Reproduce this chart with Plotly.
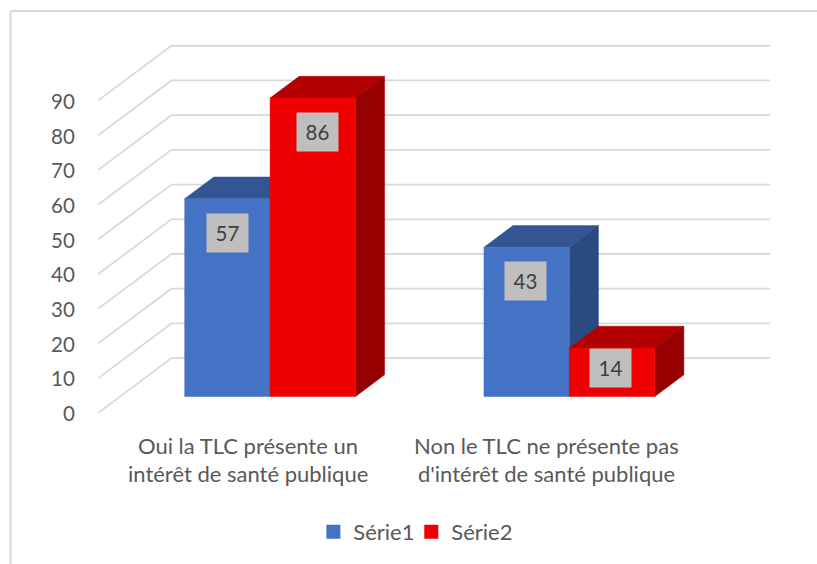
import plotly.graph_objects as go

# Data
category_lines = [["Oui la TLC présente un", "intérêt de santé publique"],
                  ["Non le TLC ne présente pas", "d'intérêt de santé publique"]]
series_names = ["Série1", "Série2"]
serie1 = [57, 43]
serie2 = [86, 14]
y_ticks = [0, 10, 20, 30, 40, 50, 60, 70, 80, 90]

# Style
FONT = "Lato"
TXT = "#595959"
GRID = "#D9D9D9"
FACE = [("#4472C4", "#335593", "#2B4A80"), ("#EE0000", "#B30000", "#960000")]
FS_CAT = 22
FS_NUM = 20.5
FS_LEG = 22
LABEL_XSHIFT = [[0.5, -1], [4.5, -1.5]]
LEGEND_LEFT = [313, 411]

# Oblique projection of the 3D box onto the x / value axes
W, H = 817, 564
L, R, T, B = 97.5, 790, 26, 414
PX_CAT = 299.5
PX_VAL = 3.48
DX = 73.5 / PX_CAT
DY = 55 / PX_VAL
D0, D1 = 0.30, 0.695
BAR_W = 0.2855
BAR_OFF = 0.216
X_MAX = (R - L) / PX_CAT
Y_MAX = (B - T) / PX_VAL


def proj(x, v, t):
    return x + t * DX, v + t * DY


def poly(pts):
    xs, ys = [], []
    for p in pts + [pts[0]]:
        xs.append(p[0])
        ys.append(p[1])
    return xs, ys


def join(polys):
    xs, ys = [], []
    for a, b in polys:
        xs += a + [None]
        ys += b + [None]
    return xs, ys


fig = go.Figure()

# Walls' gridlines
gx, gy = [], []
for v in y_ticks:
    a = proj(0, v, 0)
    b = proj(0, v, 1)
    c = proj(2, v, 1)
    gx += [a[0], b[0], c[0], None]
    gy += [a[1], b[1], c[1], None]
fig.add_trace(go.Scatter(x=gx, y=gy, mode="lines", line=dict(color=GRID, width=1.8),
                         showlegend=False, hoverinfo="skip", cliponaxis=False))

annots = []
for s, values in enumerate([serie1, serie2]):
    front, top, side = [], [], []
    for c, v in enumerate(values):
        x0 = c + BAR_OFF + s * BAR_W
        x1 = x0 + BAR_W
        front.append(poly([proj(x0, 0, D0), proj(x1, 0, D0), proj(x1, v, D0), proj(x0, v, D0)]))
        top.append(poly([proj(x0, v, D0), proj(x1, v, D0), proj(x1, v, D1), proj(x0, v, D1)]))
        side.append(poly([proj(x1, 0, D0), proj(x1, 0, D1), proj(x1, v, D1), proj(x1, v, D0)]))
        lx, ly = proj((x0 + x1) / 2, max(v - 9.8, v * 0.58), D0)
        annots.append(dict(x=lx, y=ly, xref="x", yref="y", text=str(v), showarrow=False,
                           xshift=LABEL_XSHIFT[s][c],
                           width=41, height=38, bgcolor="#BFBFBF", borderpad=0, valign="middle",
                           font=dict(family=FONT, size=FS_NUM, color="#404040")))
    for faces, col in ((top, FACE[s][1]), (side, FACE[s][2]), (front, FACE[s][0])):
        xs, ys = join(faces)
        fig.add_trace(go.Scatter(x=xs, y=ys, mode="lines", fill="toself", fillcolor=col,
                                 line=dict(color=col, width=0.5), showlegend=False,
                                 hoverinfo="skip"))

# Legend entries, each in its own legend so the pair can be spaced as in the original
for s, name in enumerate(series_names):
    fig.add_trace(go.Scatter(x=[None], y=[None], mode="markers", name=name,
                             legend="legend" if s == 0 else "legend2", showlegend=True,
                             marker=dict(symbol="square", size=14, color=FACE[s][0])))

# Category labels, one annotation per line for the 28 px leading
for c, lines in enumerate(category_lines):
    for i, line in enumerate(lines):
        annots.append(dict(x=c + 0.5, y=0, xref="x", yref="y", text=line, showarrow=False,
                           xanchor="center", yanchor="middle", yshift=-(32 + 28 * i),
                           font=dict(family=FONT, size=FS_CAT, color=TXT)))


def legend_at(left):
    return dict(orientation="h", x=(left - L) / (R - L), xanchor="left",
                y=(B - 532) / (B - T), yanchor="middle",
                font=dict(family=FONT, size=FS_LEG, color=TXT), bgcolor="rgba(0,0,0,0)")


fig.update_layout(
    width=W, height=H, autosize=False,
    margin=dict(l=L, r=W - R, t=T, b=H - B, pad=0),
    paper_bgcolor="white", plot_bgcolor="rgba(0,0,0,0)",
    font=dict(family=FONT, size=FS_CAT, color=TXT),
    showlegend=True,
    xaxis=dict(range=[0, X_MAX], showgrid=False, zeroline=False, showline=False,
               showticklabels=False, ticks="", fixedrange=True),
    yaxis=dict(range=[0, Y_MAX], tickmode="array", tickvals=y_ticks,
               ticktext=[str(v) for v in y_ticks], showgrid=False, zeroline=False, showline=False,
               ticks="outside", ticklen=18, tickcolor="rgba(0,0,0,0)", fixedrange=True,
               ticklabelshift=1,
               tickfont=dict(family=FONT, size=FS_NUM, color=TXT)),
    legend=legend_at(LEGEND_LEFT[0]),
    legend2=legend_at(LEGEND_LEFT[1]),
    annotations=annots,
    shapes=[dict(type="line", xref="paper", yref="paper",
                 x0=(10 - L) / (R - L), x1=(10 - L) / (R - L), y0=(B - 11) / (B - T), y1=(B - 570) / (B - T),
                 line=dict(color=GRID, width=2)),
            dict(type="line", xref="paper", yref="paper",
                 x0=(10 - L) / (R - L), x1=(825 - L) / (R - L), y0=(B - 11) / (B - T), y1=(B - 11) / (B - T),
                 line=dict(color=GRID, width=2))],
)

fig.write_html("out.html", config=dict(displayModeBar=False),
               post_script="document.body.style.margin='0';document.documentElement.style.overflow='hidden';")
